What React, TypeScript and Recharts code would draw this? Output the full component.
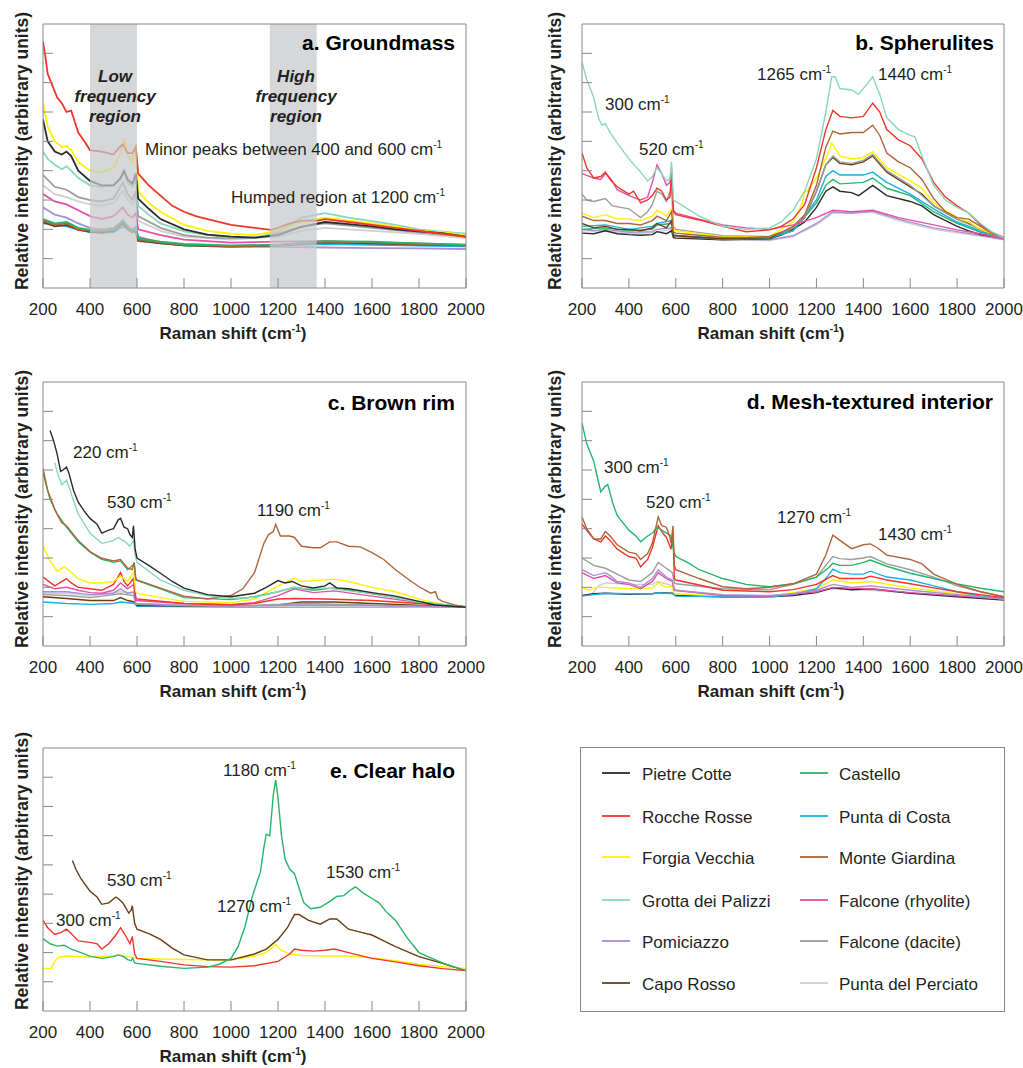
import React from 'react';
import { LineChart, Line, XAxis, YAxis, ReferenceArea } from 'recharts';

type Pt = [number, number];

const FONT = '"Liberation Sans", Arial, Helvetica, sans-serif';
const INK = '#231f20';
const FRAME = '#888888';

// Sites (legend order) and colours
const SITES = [
  'Pietre Cotte', 'Rocche Rosse', 'Forgia Vecchia', 'Grotta dei Palizzi', 'Pomiciazzo', 'Capo Rosso',
  'Castello', 'Punta di Costa', 'Monte Giardina', 'Falcone (rhyolite)', 'Falcone (dacite)', 'Punta del Perciato',
];
const SITE_COLORS = [
  '#2b2b2b', '#f0352a', '#fff200', '#88d8b8', '#a98fd6', '#6a3d12',
  '#27b56a', '#1ab0e8', '#b0643a', '#e84ea8', '#9d9d9d', '#cfcfcf',
];
const PC = 0, RR = 1, FV = 2, GP = 3, PO = 4, CR = 5, CA = 6, PD = 7, MG = 8, FR = 9, FD = 10, PP = 11;

const X_TICKS = [200, 400, 600, 800, 1000, 1200, 1400, 1600, 1800, 2000];
const Y_TICKS = [1, 2, 3, 4, 5, 6, 7, 8];

// ---------- a. Groundmass ----------
const a_rocche: Pt[] = [[200,8.4],[210,7.9],[220,7.3],[240,6.9],[260,6.5],[280,6.3],[300,6.0],[320,6.05],[350,5.3],[380,4.95],[400,4.7],[450,4.65],[500,4.55],[520,4.75],[540,4.9],[560,4.6],[580,4.6],[595,4.8],[605,3.9],[650,3.5],[700,3.15],[750,2.8],[800,2.6],[850,2.45],[900,2.35],[1000,2.15],[1100,2.05],[1170,1.98],[1200,2.05],[1250,2.2],[1300,2.3],[1370,2.3],[1400,2.35],[1500,2.25],[1600,2.15],[1700,2.05],[1800,1.95],[1900,1.85],[2000,1.75]];
const a_forgia: Pt[] = [[200,6.3],[220,5.5],[250,5.0],[280,4.8],[300,4.85],[320,4.7],[350,4.3],[400,4.0],[450,3.95],[500,4.1],[530,4.6],[545,5.1],[560,4.5],[580,4.3],[595,4.9],[605,3.3],[650,2.9],[700,2.6],[800,2.15],[900,1.95],[1000,1.85],[1100,1.8],[1200,1.95],[1300,2.25],[1400,2.4],[1500,2.3],[1600,2.2],[1700,2.1],[1800,1.95],[1900,1.9],[2000,1.8]];
const a_pietre: Pt[] = [[200,5.75],[220,5.0],[250,4.65],[280,4.55],[300,4.65],[320,4.5],[350,4.0],[400,3.65],[450,3.5],[500,3.5],[530,3.75],[545,4.0],[560,3.7],[580,3.55],[595,3.9],[605,3.05],[650,2.7],[700,2.35],[800,2.0],[900,1.82],[1000,1.75],[1100,1.72],[1200,1.8],[1300,2.08],[1400,2.25],[1500,2.18],[1600,2.1],[1700,2.0],[1800,1.93],[1900,1.87],[2000,1.75]];
const a_grotta: Pt[] = [[200,4.65],[220,4.4],[250,4.2],[280,4.05],[300,4.15],[320,4.0],[350,3.75],[400,3.5],[450,3.45],[500,3.5],[530,3.7],[545,3.95],[560,3.6],[580,3.45],[595,3.7],[605,2.8],[650,2.5],[700,2.2],[800,1.93],[900,1.8],[1000,1.73],[1100,1.72],[1200,1.9],[1300,2.4],[1400,2.55],[1500,2.4],[1600,2.28],[1700,2.15],[1800,2.0],[1900,1.92],[2000,1.85]];
const a_dacite: Pt[] = [[200,3.85],[250,3.45],[300,3.35],[350,3.1],[400,3.0],[450,2.95],[500,3.05],[540,3.6],[560,3.2],[580,3.0],[595,3.3],[605,2.45],[700,2.05],[800,1.8],[900,1.72],[1000,1.7],[1100,1.7],[1200,1.85],[1300,2.1],[1400,2.2],[1600,2.05],[1800,1.9],[2000,1.75]];
const a_perciato: Pt[] = [[200,3.5],[250,3.2],[300,3.1],[350,2.95],[400,2.85],[450,2.8],[500,2.9],[540,3.3],[560,3.0],[580,2.85],[595,3.1],[605,2.3],[700,1.95],[800,1.75],[1000,1.65],[1200,1.75],[1300,1.95],[1400,2.05],[1600,1.95],[1800,1.85],[2000,1.7]];
const a_rhyolite: Pt[] = [[200,3.2],[250,2.95],[300,2.85],[350,2.65],[400,2.45],[450,2.35],[500,2.45],[540,2.75],[560,2.5],[580,2.4],[595,2.55],[605,2.0],[700,1.8],[800,1.65],[1000,1.55],[1200,1.58],[1400,1.6],[1600,1.55],[1800,1.52],[2000,1.47]];
const a_pomiciazzo: Pt[] = [[200,2.75],[250,2.5],[300,2.4],[350,2.2],[400,2.05],[450,2.0],[500,2.05],[540,2.3],[560,2.1],[580,2.0],[595,2.1],[605,1.75],[700,1.55],[800,1.45],[1000,1.4],[1200,1.4],[1400,1.38],[1600,1.36],[1800,1.35],[2000,1.33]];
const a_castello: Pt[] = [[200,2.35],[250,2.2],[300,2.25],[350,2.05],[400,1.98],[450,1.95],[500,2.0],[540,2.3],[560,2.1],[580,1.95],[595,2.05],[605,1.7],[700,1.58],[800,1.5],[1000,1.45],[1200,1.48],[1400,1.6],[1600,1.58],[1800,1.52],[2000,1.48]];
const a_giardina: Pt[] = [[200,2.3],[250,2.15],[300,2.2],[350,2.0],[400,1.95],[450,1.92],[500,1.98],[540,2.25],[560,2.05],[580,1.92],[595,2.0],[605,1.65],[700,1.55],[800,1.47],[1000,1.43],[1200,1.45],[1400,1.58],[1600,1.55],[1800,1.5],[2000,1.45]];
const a_capo: Pt[] = [[200,2.25],[250,2.1],[300,2.15],[350,1.98],[400,1.92],[450,1.88],[500,1.95],[540,2.2],[560,2.0],[580,1.9],[595,1.95],[605,1.62],[700,1.52],[800,1.45],[1000,1.42],[1200,1.45],[1400,1.56],[1600,1.52],[1800,1.48],[2000,1.45]];
const a_costa: Pt[] = [[200,2.2],[300,2.1],[400,1.9],[500,1.9],[540,2.1],[595,1.9],[605,1.6],[800,1.45],[1000,1.4],[1400,1.5],[2000,1.42]];

// ---------- b. Spherulites ----------
const b_grotta: Pt[] = [[200,7.7],[220,7.1],[250,6.5],[270,5.8],[285,5.55],[300,5.6],[320,5.3],[350,4.95],[400,4.4],[450,3.95],[480,3.65],[500,3.8],[520,4.1],[540,3.9],[560,3.65],[575,3.7],[582,4.3],[590,3.0],[600,2.95],[700,2.45],[800,2.1],[900,2.0],[1000,2.05],[1050,2.25],[1100,2.65],[1150,3.3],[1200,4.4],[1240,6.0],[1265,7.2],[1280,7.2],[1300,6.8],[1350,6.75],[1380,6.6],[1410,6.9],[1440,7.2],[1470,6.6],[1500,5.8],[1550,5.4],[1600,5.2],[1620,5.15],[1650,4.5],[1700,3.5],[1750,3.0],[1800,2.75],[1850,2.55],[1900,2.2],[1950,1.9],[2000,1.7]];
const b_rocche: Pt[] = [[200,4.6],[220,4.1],[250,3.75],[280,3.8],[300,3.95],[320,3.7],[350,3.45],[400,3.2],[420,3.3],[450,2.9],[480,3.0],[500,3.15],[520,3.4],[540,3.3],[560,3.0],[575,3.1],[582,3.9],[590,2.6],[600,2.5],[700,2.32],[800,2.1],[900,1.92],[1000,1.98],[1050,2.1],[1100,2.35],[1150,2.85],[1200,4.1],[1240,5.4],[1270,6.05],[1300,5.85],[1350,5.8],[1400,5.85],[1440,6.3],[1470,6.0],[1500,5.4],[1550,5.05],[1600,4.85],[1650,4.4],[1700,3.6],[1750,3.1],[1800,2.8],[1850,2.55],[1900,2.15],[1950,1.9],[2000,1.72]];
const b_giardina: Pt[] = [[200,2.45],[250,2.3],[300,2.3],[350,2.2],[400,2.2],[450,2.15],[500,2.3],[520,2.45],[560,2.3],[582,2.6],[590,1.9],[600,1.87],[700,1.8],[800,1.72],[900,1.72],[1000,1.76],[1050,1.9],[1100,2.1],[1150,2.5],[1200,3.5],[1240,4.8],[1270,5.35],[1300,5.25],[1350,5.3],[1400,5.3],[1440,5.55],[1470,5.2],[1500,4.6],[1550,4.3],[1600,4.1],[1650,3.7],[1700,3.05],[1750,2.6],[1800,2.4],[1850,2.35],[1900,2.1],[1950,1.85],[2000,1.7]];
const b_capo: Pt[] = [[200,2.2],[250,2.05],[300,2.1],[350,2.0],[400,2.0],[450,1.95],[500,2.05],[520,2.2],[560,2.05],[582,2.3],[590,1.8],[600,1.78],[800,1.68],[1000,1.72],[1100,2.05],[1150,2.4],[1200,3.3],[1240,4.2],[1270,4.45],[1300,4.25],[1350,4.2],[1400,4.3],[1440,4.5],[1500,3.95],[1600,3.45],[1650,3.2],[1700,2.8],[1800,2.35],[1850,2.2],[1900,2.0],[2000,1.7]];
const b_forgia: Pt[] = [[200,2.55],[250,2.4],[300,2.5],[350,2.35],[400,2.35],[450,2.3],[500,2.45],[520,2.65],[560,2.45],[582,2.7],[590,2.0],[600,1.95],[800,1.75],[1000,1.75],[1100,2.25],[1140,2.9],[1150,3.3],[1160,3.3],[1200,3.75],[1250,4.6],[1265,4.95],[1300,4.5],[1350,4.4],[1400,4.45],[1440,4.65],[1500,4.1],[1600,3.65],[1650,3.4],[1700,2.9],[1800,2.4],[1850,2.25],[1900,2.0],[2000,1.7]];
const b_dacite: Pt[] = [[200,3.2],[220,3.0],[250,2.95],[300,3.05],[330,2.8],[400,2.7],[450,2.4],[480,2.6],[500,2.85],[520,3.3],[540,3.2],[560,2.95],[582,3.4],[590,2.1],[600,2.0],[800,1.78],[1000,1.75],[1100,2.05],[1150,2.4],[1200,3.3],[1240,4.2],[1270,4.5],[1300,4.3],[1350,4.25],[1400,4.35],[1440,4.55],[1500,4.0],[1600,3.5],[1700,2.8],[1800,2.35],[1900,2.0],[2000,1.7]];
const b_rhyolite: Pt[] = [[200,3.9],[250,3.75],[280,3.7],[300,3.9],[320,3.75],[350,3.35],[400,3.15],[450,3.0],[480,3.1],[500,3.6],[520,4.2],[540,3.9],[560,3.5],[575,3.6],[582,4.1],[590,2.65],[600,2.55],[700,2.35],[800,2.15],[900,2.05],[1000,2.0],[1100,2.15],[1200,2.4],[1270,2.65],[1350,2.6],[1440,2.65],[1550,2.4],[1700,2.15],[1800,1.98],[1900,1.85],[2000,1.68]];
const b_costa: Pt[] = [[200,2.1],[300,2.15],[400,2.0],[500,2.1],[520,2.2],[582,2.3],[590,1.8],[800,1.68],[1000,1.72],[1100,1.95],[1200,3.0],[1240,3.8],[1270,4.0],[1300,3.85],[1400,3.85],[1440,3.95],[1500,3.6],[1600,3.2],[1700,2.7],[1800,2.25],[1900,1.95],[2000,1.7]];
const b_castello: Pt[] = [[200,2.0],[300,2.05],[400,1.95],[500,2.0],[520,2.15],[582,2.2],[590,1.8],[800,1.65],[1000,1.7],[1100,1.95],[1200,2.9],[1240,3.5],[1270,3.7],[1300,3.55],[1400,3.6],[1440,3.75],[1500,3.4],[1600,3.15],[1700,2.6],[1800,2.2],[1900,1.9],[2000,1.7]];
const b_pietre: Pt[] = [[200,1.87],[250,1.85],[300,1.95],[350,1.85],[400,1.82],[450,1.8],[500,1.82],[520,1.92],[560,1.85],[582,1.95],[590,1.72],[600,1.7],[800,1.64],[1000,1.68],[1050,1.8],[1100,2.0],[1150,2.25],[1200,2.75],[1240,3.3],[1270,3.45],[1300,3.3],[1350,3.25],[1380,3.15],[1440,3.5],[1500,3.15],[1600,2.95],[1650,2.8],[1700,2.5],[1800,2.1],[1850,1.95],[1900,1.82],[2000,1.7]];
const b_pomiciazzo: Pt[] = [[200,2.0],[250,1.95],[300,2.0],[400,1.9],[500,1.92],[520,2.0],[582,2.05],[590,1.78],[800,1.66],[1000,1.64],[1100,1.78],[1200,2.2],[1270,2.6],[1350,2.55],[1440,2.62],[1550,2.35],[1700,2.05],[1800,1.92],[1900,1.8],[2000,1.65]];
const b_perciato: Pt[] = [[200,1.95],[300,1.95],[400,1.85],[500,1.88],[582,2.0],[590,1.75],[800,1.64],[1000,1.62],[1100,1.75],[1200,2.15],[1270,2.55],[1440,2.58],[1550,2.3],[1700,2.0],[1800,1.88],[2000,1.64]];

// ---------- c. Brown rim ----------
const c_pietre: Pt[] = [[230,7.35],[245,7.0],[260,6.55],[275,5.95],[285,6.0],[300,6.1],[310,5.9],[330,5.3],[350,4.9],[380,4.55],[400,4.35],[430,4.15],[450,3.85],[480,3.95],[500,4.0],[520,4.3],[530,4.35],[545,4.05],[560,4.0],[570,3.8],[580,3.7],[585,4.1],[592,3.3],[600,3.0],[650,2.75],[700,2.48],[750,2.2],[800,1.97],[900,1.75],[1000,1.68],[1100,1.8],[1150,2.0],[1200,2.23],[1230,2.15],[1260,2.2],[1300,2.05],[1350,1.98],[1400,2.05],[1420,2.15],[1450,1.98],[1500,1.95],[1600,1.82],[1700,1.7],[1800,1.52],[1870,1.4],[1900,1.38],[2000,1.32]];
const c_grotta: Pt[] = [[250,6.25],[265,5.8],[280,5.5],[300,5.65],[310,5.45],[330,4.95],[350,4.5],[400,3.85],[450,3.5],[480,3.55],[500,3.6],[520,3.7],[530,3.65],[550,3.55],[570,3.4],[585,3.6],[592,3.1],[600,2.85],[700,2.25],[800,1.9],[900,1.72],[1000,1.62],[1100,1.66],[1200,1.85],[1270,2.0],[1300,1.95],[1400,1.98],[1500,1.88],[1600,1.8],[1800,1.5],[2000,1.32]];
const c_giardina: Pt[] = [[200,6.05],[220,5.3],[250,4.65],[280,4.2],[300,4.1],[320,3.9],[350,3.6],[400,3.22],[450,2.99],[500,2.9],[530,2.95],[560,2.65],[580,2.6],[588,2.85],[595,2.3],[600,2.25],[700,1.97],[800,1.7],[900,1.6],[1000,1.72],[1050,1.95],[1100,2.5],[1140,3.5],[1160,3.8],[1180,3.9],[1190,4.15],[1210,3.75],[1250,3.75],[1270,3.7],[1300,3.4],[1350,3.35],[1380,3.35],[1420,3.55],[1450,3.55],[1500,3.4],[1550,3.38],[1600,3.18],[1650,2.95],[1700,2.6],[1750,2.3],[1800,2.02],[1850,1.8],[1870,1.85],[1880,1.62],[1900,1.52],[1950,1.4],[2000,1.34]];
const c_castello: Pt[] = [[200,5.9],[230,5.0],[260,4.5],[300,4.05],[350,3.55],[400,3.2],[450,2.95],[500,2.85],[530,2.9],[560,2.6],[588,2.8],[595,2.25],[700,1.95],[800,1.65],[1000,1.58],[1100,1.68],[1200,1.85],[1270,2.0],[1350,1.9],[1440,1.98],[1550,1.85],[1700,1.65],[1800,1.5],[2000,1.33]];
const c_forgia: Pt[] = [[200,3.4],[230,2.9],[260,2.55],[290,2.7],[300,2.65],[350,2.3],[400,2.15],[450,2.15],[500,2.2],[530,2.38],[560,2.2],[585,2.5],[595,1.85],[600,1.8],[700,1.65],[800,1.52],[1000,1.48],[1100,1.6],[1200,2.05],[1270,2.32],[1300,2.2],[1440,2.28],[1500,2.2],[1600,2.0],[1700,1.85],[1800,1.6],[1900,1.42],[2000,1.33]];
const c_rocche: Pt[] = [[200,2.35],[250,2.05],[300,2.3],[320,2.15],[350,2.0],[400,1.95],[450,1.9],[500,2.1],[530,2.5],[545,2.2],[560,2.05],[585,2.3],[595,1.65],[600,1.6],[800,1.45],[1000,1.4],[1100,1.45],[1200,1.6],[1270,1.62],[1400,1.6],[1600,1.55],[1800,1.45],[2000,1.33]];
const c_rhyolite: Pt[] = [[200,2.1],[250,1.95],[300,2.0],[350,1.9],[400,1.82],[450,1.8],[500,1.9],[530,2.15],[560,1.95],[585,2.1],[595,1.55],[800,1.45],[1000,1.42],[1100,1.48],[1200,1.72],[1270,1.95],[1350,1.82],[1440,1.88],[1600,1.7],[1800,1.48],[2000,1.33]];
const c_pomiciazzo: Pt[] = [[200,1.85],[300,1.85],[400,1.75],[500,1.8],[530,1.95],[560,1.8],[585,1.85],[595,1.45],[800,1.38],[1000,1.36],[1300,1.4],[1600,1.38],[2000,1.32]];
const c_perciato: Pt[] = [[200,1.8],[300,1.8],[400,1.7],[530,1.85],[585,1.8],[595,1.45],[1000,1.36],[2000,1.32]];
const c_dacite: Pt[] = [[200,1.75],[300,1.72],[400,1.65],[530,1.78],[585,1.72],[595,1.42],[1000,1.35],[1300,1.45],[2000,1.32]];
const c_capo: Pt[] = [[200,1.68],[300,1.62],[400,1.55],[500,1.55],[530,1.65],[560,1.55],[590,1.5],[600,1.38],[1000,1.35],[1200,1.4],[1300,1.5],[1440,1.5],[1600,1.45],[2000,1.32]];
const c_costa: Pt[] = [[200,1.5],[300,1.45],[400,1.42],[500,1.45],[530,1.5],[590,1.45],[600,1.35],[1000,1.33],[2000,1.32]];

// ---------- d. Mesh-textured interior ----------
const d_castello: Pt[] = [[200,7.6],[220,6.9],[250,6.3],[270,5.6],[280,5.25],[300,5.45],[310,5.5],[330,4.9],[350,4.45],[400,3.95],[430,3.75],[450,3.55],[480,3.75],[500,3.85],[520,4.05],[540,3.95],[560,3.85],[580,3.75],[592,3.2],[600,3.05],[650,2.85],[700,2.6],[800,2.3],[900,2.1],[1000,2.02],[1100,2.12],[1200,2.35],[1250,2.65],[1270,2.82],[1300,2.75],[1350,2.75],[1400,2.85],[1430,2.93],[1500,2.72],[1600,2.48],[1700,2.3],[1800,2.12],[1900,1.97],[2000,1.85]];
const d_giardina: Pt[] = [[200,4.4],[220,4.0],[250,3.65],[280,3.65],[300,3.9],[320,3.75],[350,3.45],[400,3.2],[430,3.15],[450,2.95],[480,3.15],[500,3.5],[525,4.4],[540,4.1],[560,4.05],[575,3.7],[580,3.5],[588,4.1],[594,2.75],[600,2.6],[700,2.3],[800,2.02],[900,1.95],[1000,2.0],[1100,2.12],[1200,2.45],[1240,3.1],[1270,3.78],[1300,3.6],[1350,3.32],[1400,3.45],[1430,3.48],[1460,3.35],[1500,3.1],[1600,2.95],[1650,2.8],[1700,2.45],[1800,2.1],[1900,1.85],[2000,1.68]];
const d_rocche: Pt[] = [[200,4.15],[250,3.65],[280,3.55],[300,3.75],[320,3.6],[350,3.3],[400,3.05],[430,3.0],[450,2.7],[480,2.95],[500,3.35],[525,4.1],[540,3.9],[560,3.7],[575,3.4],[580,3.3],[588,3.9],[594,2.3],[600,2.25],[700,2.08],[800,1.9],[1000,1.85],[1100,1.92],[1200,2.1],[1270,2.4],[1300,2.3],[1400,2.3],[1430,2.38],[1500,2.25],[1600,2.12],[1700,1.98],[1800,1.85],[2000,1.65]];
const d_dacite: Pt[] = [[200,3.0],[250,2.75],[300,2.65],[350,2.45],[400,2.25],[450,2.2],[500,2.5],[525,2.85],[560,2.65],[585,2.5],[594,2.15],[600,2.12],[800,1.95],[1000,1.92],[1100,2.1],[1200,2.35],[1250,2.85],[1270,3.05],[1300,2.98],[1350,2.95],[1400,3.0],[1430,3.05],[1500,2.8],[1600,2.6],[1700,2.35],[1800,2.05],[1900,1.85],[2000,1.68]];
const d_pomiciazzo: Pt[] = [[200,2.6],[250,2.4],[300,2.5],[320,2.4],[350,2.2],[400,2.15],[450,2.0],[500,2.3],[525,2.6],[560,2.35],[585,2.25],[594,1.95],[600,1.9],[800,1.75],[1000,1.72],[1100,1.78],[1200,1.9],[1270,2.1],[1350,2.0],[1430,2.05],[1600,1.9],[1800,1.75],[2000,1.6]];
const d_rhyolite: Pt[] = [[200,2.5],[250,2.3],[300,2.4],[350,2.15],[400,2.1],[450,1.95],[500,2.2],[525,2.5],[560,2.3],[585,2.2],[594,1.9],[800,1.72],[1000,1.7],[1200,1.85],[1270,2.0],[1430,1.95],[1600,1.82],[2000,1.6]];
const d_perciato: Pt[] = [[240,1.75],[270,2.05],[300,2.15],[400,2.1],[500,2.1],[525,2.2],[585,2.05],[594,1.75],[800,1.7],[1000,1.68],[1270,1.95],[1430,1.9],[2000,1.6]];
const d_costa: Pt[] = [[200,1.7],[250,1.75],[300,1.8],[400,1.78],[500,1.78],[525,1.82],[585,1.78],[600,1.7],[800,1.68],[1000,1.68],[1100,1.75],[1200,1.95],[1250,2.4],[1270,2.62],[1300,2.5],[1350,2.45],[1400,2.45],[1430,2.55],[1500,2.35],[1600,2.25],[1700,2.05],[1800,1.85],[1900,1.7],[2000,1.62]];
const d_forgia: Pt[] = [[200,2.0],[230,1.9],[260,2.0],[300,2.0],[400,1.95],[500,1.98],[525,2.15],[560,2.0],[585,2.05],[594,1.78],[800,1.7],[1000,1.68],[1200,1.95],[1270,2.25],[1350,2.15],[1430,2.2],[1600,1.98],[1800,1.78],[2000,1.6]];
const d_pietre: Pt[] = [[200,1.72],[250,1.78],[300,1.8],[400,1.76],[500,1.78],[525,1.82],[585,1.8],[600,1.72],[800,1.68],[1000,1.68],[1100,1.72],[1200,1.82],[1270,1.98],[1350,1.92],[1430,1.95],[1600,1.8],[1800,1.68],[2000,1.57]];

// ---------- e. Clear halo ----------
const e_castello: Pt[] = [[200,2.48],[230,2.3],[260,2.22],[290,2.25],[320,2.12],[350,2.03],[400,1.88],[450,1.8],[500,1.86],[520,1.92],[545,1.85],[560,1.76],[575,1.72],[582,1.8],[590,1.65],[600,1.63],[700,1.53],[800,1.46],[900,1.5],[950,1.6],[1000,1.8],[1030,2.2],[1060,2.9],[1090,3.9],[1110,4.4],[1125,4.75],[1140,5.6],[1150,6.05],[1165,6.0],[1180,7.4],[1190,7.9],[1200,7.3],[1215,6.0],[1230,5.2],[1250,4.85],[1270,4.7],[1290,4.2],[1310,3.7],[1340,3.5],[1380,3.55],[1420,3.75],[1450,3.92],[1480,3.95],[1510,4.15],[1530,4.25],[1560,4.05],[1600,3.85],[1630,3.7],[1660,3.4],[1680,3.25],[1700,3.1],[1750,2.5],[1800,2.0],[1850,1.82],[1900,1.65],[1950,1.5],[2000,1.38]];
const e_capo: Pt[] = [[325,5.15],[340,4.85],[360,4.55],[400,4.1],[430,3.9],[450,3.65],[480,3.7],[510,3.9],[520,3.85],[540,3.7],[565,3.35],[575,3.45],[580,3.6],[590,3.0],[600,2.8],[650,2.65],[700,2.45],[750,2.15],[800,1.92],[900,1.75],[1000,1.75],[1100,1.95],[1150,2.12],[1200,2.45],[1240,2.85],[1270,3.3],[1290,3.3],[1330,3.1],[1380,2.97],[1420,3.15],[1450,3.15],[1500,2.8],[1550,2.7],[1600,2.6],[1650,2.4],[1700,2.2],[1800,1.86],[1900,1.63],[2000,1.38]];
const e_rocche: Pt[] = [[200,3.1],[220,2.85],[250,2.62],[280,2.7],[300,2.8],[320,2.65],[350,2.4],[400,2.35],[430,2.3],[450,2.12],[480,2.3],[510,2.6],[530,2.85],[550,2.6],[570,2.3],[580,2.55],[590,1.95],[600,1.8],[700,1.7],[800,1.58],[900,1.52],[1000,1.5],[1100,1.55],[1200,1.7],[1250,1.95],[1270,2.12],[1300,2.08],[1350,2.05],[1400,2.08],[1440,2.12],[1500,2.0],[1600,1.8],[1700,1.68],[1800,1.55],[1900,1.45],[2000,1.38]];
const e_forgia: Pt[] = [[200,1.46],[235,1.46],[250,1.7],[270,1.85],[300,1.88],[400,1.85],[500,1.88],[520,1.92],[600,1.8],[700,1.78],[800,1.76],[900,1.75],[1000,1.74],[1100,1.88],[1150,2.0],[1190,2.28],[1210,2.1],[1250,1.95],[1300,1.9],[1400,1.88],[1500,1.88],[1600,1.82],[1700,1.72],[1800,1.6],[1900,1.52],[2000,1.46]];

// shaded regions in panel a
const A_BANDS: Pt[] = [[400, 600], [1165, 1365]];

type Series = { site: number; pts: Pt[] };

const SERIES_A: Series[] = [
  { site: PP, pts: a_perciato }, { site: FD, pts: a_dacite }, { site: FR, pts: a_rhyolite }, { site: PO, pts: a_pomiciazzo },
  { site: PD, pts: a_costa }, { site: CR, pts: a_capo }, { site: MG, pts: a_giardina }, { site: CA, pts: a_castello },
  { site: GP, pts: a_grotta }, { site: FV, pts: a_forgia }, { site: PC, pts: a_pietre }, { site: RR, pts: a_rocche },
];
const SERIES_B: Series[] = [
  { site: PP, pts: b_perciato }, { site: PO, pts: b_pomiciazzo }, { site: PC, pts: b_pietre }, { site: CA, pts: b_castello },
  { site: PD, pts: b_costa }, { site: CR, pts: b_capo }, { site: FD, pts: b_dacite }, { site: FV, pts: b_forgia },
  { site: MG, pts: b_giardina }, { site: FR, pts: b_rhyolite }, { site: RR, pts: b_rocche }, { site: GP, pts: b_grotta },
];
const SERIES_C: Series[] = [
  { site: PD, pts: c_costa }, { site: CR, pts: c_capo }, { site: PP, pts: c_perciato }, { site: FD, pts: c_dacite },
  { site: PO, pts: c_pomiciazzo }, { site: FR, pts: c_rhyolite }, { site: RR, pts: c_rocche }, { site: FV, pts: c_forgia },
  { site: CA, pts: c_castello }, { site: MG, pts: c_giardina }, { site: GP, pts: c_grotta }, { site: PC, pts: c_pietre },
];
const SERIES_D: Series[] = [
  { site: PP, pts: d_perciato }, { site: PC, pts: d_pietre }, { site: FV, pts: d_forgia }, { site: PD, pts: d_costa },
  { site: FR, pts: d_rhyolite }, { site: PO, pts: d_pomiciazzo }, { site: FD, pts: d_dacite }, { site: RR, pts: d_rocche },
  { site: CA, pts: d_castello }, { site: MG, pts: d_giardina },
];
const SERIES_E: Series[] = [
  { site: FV, pts: e_forgia }, { site: RR, pts: e_rocche }, { site: CR, pts: e_capo }, { site: CA, pts: e_castello },
];

// inward tick marks drawn with the tick label
function XTick(props: any) {
  const { x, y, payload } = props;
  return (
    <g>
      <line x1={x} x2={x} y1={y} y2={y - 10} stroke={FRAME} strokeWidth={1} />
      <text x={x} y={y + 27} textAnchor="middle" fontSize={17} fill={INK} fontFamily={FONT}>{payload.value}</text>
    </g>
  );
}

function YTick(props: any) {
  const { x, y } = props;
  return <line x1={x} x2={x + 10} y1={y} y2={y} stroke={FRAME} strokeWidth={1} />;
}

type PanelProps = {
  left: number; top: number; width: number; height: number;
  ml: number; mr: number; series: Series[]; sw: number; bands?: Pt[];
};

function Panel({ left, top, width, height, ml, mr, series, sw, bands }: PanelProps) {
  return (
    <div style={{ position: 'absolute', left, top }}>
      <LineChart width={width} height={height} margin={{ top: 24, right: mr, left: ml, bottom: 0 }}>
        <XAxis
          type="number"
          dataKey="x"
          domain={[200, 2000]}
          ticks={X_TICKS}
          interval={0}
          allowDataOverflow
          height={62}
          axisLine={false}
          tickLine={false}
          tickSize={0}
          tickMargin={0}
          tick={<XTick />}
        />
        <YAxis
          type="number"
          domain={[0, 9]}
          ticks={Y_TICKS}
          interval={0}
          allowDataOverflow
          width={10}
          axisLine={false}
          tickLine={false}
          tickSize={0}
          tickMargin={0}
          tick={<YTick />}
        />
        {series.map((s, i) => (
          <Line
            key={i}
            data={s.pts.map(([x, y]) => ({ x, y }))}
            dataKey="y"
            type="linear"
            stroke={SITE_COLORS[s.site]}
            strokeWidth={sw}
            dot={false}
            activeDot={false}
            isAnimationActive={false}
            name={SITES[s.site]}
          />
        ))}
        {(bands || []).map((b, i) => (
          <ReferenceArea key={'b' + i} x1={b[0]} x2={b[1]} y1={0} y2={9} fill="#c6c8cb" fillOpacity={0.72} stroke="none" zIndex={450} />
        ))}
        <ReferenceArea x1={200} x2={2000} y1={0} y2={9} fill="none" stroke={FRAME} strokeWidth={1} zIndex={460} />
      </LineChart>
    </div>
  );
}

type Note = { x: number; y: number; t: string; sup?: boolean };

const CM = (x: number, y: number, t: string): Note => ({ x, y, t, sup: true });

const NOTES: Note[] = [
  CM(145, 155, 'Minor peaks between 400 and 600 cm'),
  CM(231, 203, 'Humped region at 1200 cm'),
  CM(757, 80, '1265 cm'), CM(878, 80, '1440 cm'), CM(605, 110, '300 cm'), CM(639, 155, '520 cm'),
  CM(73, 458, '220 cm'), CM(107, 508, '530 cm'), CM(257, 516, '1190 cm'),
  CM(604, 473, '300 cm'), CM(646, 508, '520 cm'), CM(777, 523, '1270 cm'), CM(878, 540, '1430 cm'),
  CM(223, 776, '1180 cm'), CM(107, 886, '530 cm'), CM(56, 926, '300 cm'), CM(217, 912, '1270 cm'), CM(326, 878, '1530 cm'),
];

const TITLES: Note[] = [
  { x: 455, y: 50, t: 'a. Groundmass' }, { x: 994, y: 50, t: 'b. Spherulites' },
  { x: 455, y: 410, t: 'c. Brown rim' }, { x: 993, y: 409, t: 'd. Mesh-textured interior' },
  { x: 455, y: 778, t: 'e. Clear halo' },
];

const REGION_LINES = ['Low', 'frequency', 'region'];
const REGION_LINES_HIGH = ['High', 'frequency', 'region'];

// axis title anchors: [x-centre, baseline] and y-title [x, centre]
const X_TITLES: Pt[] = [[233, 339], [771, 339], [233, 697], [771, 697], [233, 1062]];
const Y_TITLES: Pt[] = [[22, 151], [555, 151], [22, 509], [555, 509], [22, 871]];

const LEGEND_ROWS = [773, 816, 857, 900, 941, 983];

function Sup({ x, y, t, size = 17 }: { x: number; y: number; t: string; size?: number }) {
  return (
    <text x={x} y={y} fontSize={size} fill={INK} fontFamily={FONT}>
      {t}
      <tspan dy={-7} fontSize={10}>-1</tspan>
    </text>
  );
}

function Overlay() {
  return (
    <svg width={1023} height={1068} style={{ position: 'absolute', left: 0, top: 0, pointerEvents: 'none' }}>
      {TITLES.map((n, i) => (
        <text key={'t' + i} x={n.x} y={n.y} textAnchor="end" fontSize={21} fontWeight="bold" fill="#000" fontFamily={FONT}>{n.t}</text>
      ))}
      {REGION_LINES.map((t, i) => (
        <text key={'l' + i} x={115} y={82 + i * 20} textAnchor="middle" fontSize={17} fontWeight="bold" fontStyle="italic" fill={INK} fontFamily={FONT}>{t}</text>
      ))}
      {REGION_LINES_HIGH.map((t, i) => (
        <text key={'h' + i} x={296} y={82 + i * 20} textAnchor="middle" fontSize={17} fontWeight="bold" fontStyle="italic" fill={INK} fontFamily={FONT}>{t}</text>
      ))}
      {NOTES.map((n, i) => <Sup key={'n' + i} x={n.x} y={n.y} t={n.t} />)}
      {X_TITLES.map(([x, y], i) => (
        <text key={'x' + i} x={x} y={y} textAnchor="middle" fontSize={17} fontWeight="bold" fill={INK} fontFamily={FONT}>
          Raman shift (cm<tspan dy={-7} fontSize={10}>-1</tspan><tspan dy={7}>)</tspan>
        </text>
      ))}
      {Y_TITLES.map(([x, y], i) => (
        <text key={'y' + i} x={x} y={y} transform={`rotate(-90 ${x} ${y})`} textAnchor="middle" dominantBaseline="central" fontSize={17.5} fontWeight="bold" fill={INK} fontFamily={FONT}>
          Relative intensity (arbitrary units)
        </text>
      ))}
      <rect x={580.5} y={747.5} width={424} height={264} fill="none" stroke={FRAME} strokeWidth={1} />
      {SITES.map((name, i) => {
        const col = i < 6 ? 0 : 1;
        const row = i % 6;
        const lx = col === 0 ? 602 : 800;
        const tx = col === 0 ? 642 : 839;
        const ly = LEGEND_ROWS[row];
        return (
          <g key={'g' + i}>
            <line x1={lx} x2={lx + 28} y1={ly} y2={ly} stroke={SITE_COLORS[i]} strokeWidth={1.8} />
            <text x={tx} y={ly + 6.5} fontSize={17} fill={INK} fontFamily={FONT}>{name}</text>
          </g>
        );
      })}
    </svg>
  );
}

export default function App() {
  return (
    <div style={{ position: 'absolute', left: 0, top: 0, width: 1023, height: 1068, background: '#fff', fontFamily: FONT }}>
      <Panel left={0} top={0} width={500} height={350} ml={33} mr={34} series={SERIES_A} sw={1.8} bands={A_BANDS} />
      <Panel left={540} top={0} width={483} height={350} ml={32} mr={19} series={SERIES_B} sw={1.4} />
      <Panel left={0} top={358} width={500} height={350} ml={33} mr={34} series={SERIES_C} sw={1.4} />
      <Panel left={540} top={358} width={483} height={350} ml={32} mr={19} series={SERIES_D} sw={1.4} />
      <Panel left={0} top={724} width={500} height={349} ml={33} mr={34} series={SERIES_E} sw={1.4} />
      <Overlay />
    </div>
  );
}
